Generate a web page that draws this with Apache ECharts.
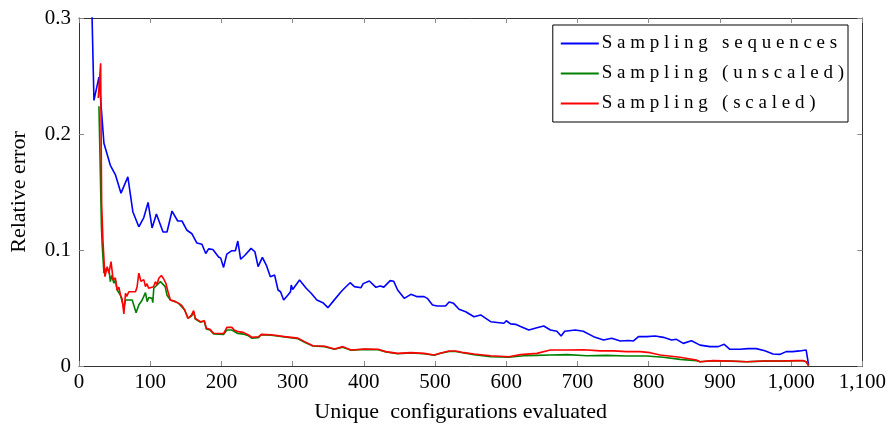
<!DOCTYPE html>
<html>
<head>
<meta charset="utf-8">
<script src="https://cdn.jsdelivr.net/npm/echarts@6/dist/echarts.min.js"></script>
<style>
  html, body { margin: 0; padding: 0; background: #fff; }
  #chart { width: 889px; height: 430px; }
</style>
</head>
<body>
<div id="chart"></div>
<script>
// series: [configurations evaluated, relative error]
const seqData = [
  [18, 0.31], [21, 0.229], [28, 0.249], [35, 0.192], [44, 0.173], [51, 0.165], [59, 0.149],
  [68.6, 0.163], [75.6, 0.133], [84, 0.120], [91, 0.128], [97, 0.141], [102.6, 0.119],
  [108.7, 0.131], [118, 0.1155], [123.6, 0.1155], [130.6, 0.1336], [138.6, 0.125],
  [144.6, 0.125], [151.6, 0.117], [158.6, 0.114], [165.6, 0.106], [172.6, 0.105],
  [178, 0.097], [182, 0.101], [188, 0.1005], [196, 0.094], [199, 0.093], [203, 0.085],
  [207.6, 0.0965], [214.6, 0.0994], [219.6, 0.0994], [223, 0.1077], [227, 0.092],
  [233, 0.0955], [241.6, 0.1014], [247, 0.0985], [251.5, 0.0856], [257.5, 0.0937],
  [263, 0.087], [268.7, 0.077], [274.7, 0.0784], [279.5, 0.0655], [283, 0.064],
  [287.4, 0.0569], [293.4, 0.0612], [297, 0.064], [298, 0.0698], [300, 0.066],
  [309.7, 0.0741], [319, 0.067], [326, 0.0627], [334, 0.0569], [342.4, 0.0546],
  [349.5, 0.0503], [356.5, 0.0555], [368, 0.064], [372.7, 0.067], [380.7, 0.0718],
  [386.7, 0.0684], [396, 0.0675], [399, 0.071], [407.7, 0.0733], [417, 0.0678],
  [423, 0.069], [428, 0.068], [437, 0.0736], [442, 0.073], [447.4, 0.0655],
  [456.7, 0.0583], [466, 0.0618], [475, 0.0598], [484.6, 0.0598], [489, 0.0583],
  [496.4, 0.0526], [503, 0.0517], [514.7, 0.0517], [519.7, 0.0552], [526, 0.054],
  [533.6, 0.0489], [543, 0.0468], [554.6, 0.0425], [564, 0.044], [578, 0.0382],
  [596.6, 0.0368], [600, 0.039], [606, 0.0363], [613, 0.0359], [620, 0.034],
  [631.6, 0.031], [643, 0.033], [652.6, 0.0345], [662, 0.031], [671, 0.030],
  [677, 0.0259], [682, 0.030], [697, 0.031], [708, 0.030], [722.6, 0.0253],
  [736.6, 0.0224], [748, 0.024], [760, 0.0216], [771.6, 0.022], [778.6, 0.0216],
  [785.6, 0.0253], [797, 0.0253], [809, 0.0259], [820.6, 0.0247], [832, 0.0224],
  [839, 0.023], [848.5, 0.0195], [860, 0.0218], [872, 0.018], [886, 0.0167],
  [897.6, 0.0167], [906, 0.0187], [914, 0.0144], [928, 0.0144], [939.6, 0.015],
  [951, 0.015], [963, 0.0132], [974.5, 0.0103], [984, 0.010], [993, 0.0124],
  [1002, 0.0124], [1012, 0.013], [1021, 0.0138], [1023.5, 0.013], [1024.5, 0.001]
];

const unscaledData = [
  [28, 0.224], [31.5, 0.12], [32.5, 0.105], [35, 0.08], [38, 0.084], [42.3, 0.082],
  [44, 0.0727], [46, 0.078], [49, 0.0713], [51, 0.074], [53.6, 0.0655], [58.3, 0.061],
  [63, 0.0497], [65.3, 0.0569], [74.7, 0.0569], [80.2, 0.046], [84, 0.0526],
  [88.7, 0.0569], [93.3, 0.0632], [95.7, 0.0555], [98, 0.059], [102.6, 0.0583],
  [103.6, 0.0546], [105, 0.067], [109.6, 0.0698], [114.3, 0.0727], [117, 0.071],
  [121, 0.0684], [123.6, 0.061], [128.3, 0.0569], [135.3, 0.0555], [140, 0.054],
  [148.4, 0.0483], [153, 0.0411], [158, 0.043], [161, 0.0465], [163.3, 0.0405],
  [170.3, 0.0378], [176, 0.0385], [178.7, 0.032], [184, 0.031], [189, 0.0276],
  [196, 0.0275], [203, 0.0272], [207.6, 0.031], [214.6, 0.031], [223, 0.028],
  [230.7, 0.0275], [238, 0.026], [242.5, 0.024], [252, 0.0245], [256, 0.027],
  [270, 0.0265], [288.7, 0.025], [307.4, 0.0235], [316.7, 0.0205], [328.4, 0.0172],
  [345, 0.0167], [358.7, 0.0145], [370.4, 0.0162], [382, 0.0136], [401, 0.0143],
  [420, 0.014], [431, 0.012], [447.4, 0.0106], [466, 0.0112], [484.6, 0.0106],
  [498.7, 0.0093], [508, 0.011], [519.7, 0.0125], [529, 0.0125], [540.6, 0.0112],
  [554.6, 0.0098], [578, 0.008], [603.6, 0.0076], [624.6, 0.0089], [643, 0.0092],
  [662, 0.0095], [685.6, 0.0098], [713, 0.0089], [741, 0.0092], [769, 0.0086],
  [787.6, 0.0086], [797, 0.0086], [820.6, 0.0075], [844, 0.0057], [867, 0.0045],
  [872, 0.0037], [890.6, 0.0045], [914, 0.0042], [937.6, 0.0037], [961, 0.0042],
  [984, 0.0042], [1007.6, 0.0045], [1017, 0.0045], [1021, 0.0037], [1024.5, 0.0003]
];

const scaledData = [
  [27, 0.231], [30.4, 0.261], [31.8, 0.14], [33.6, 0.1086], [36.4, 0.077],
  [39.6, 0.0856], [42, 0.08], [45, 0.090], [48, 0.074], [51, 0.076], [53.6, 0.0655],
  [56, 0.068], [58.3, 0.061], [60.5, 0.058], [63, 0.0448], [65.3, 0.0627], [67, 0.06],
  [70, 0.064], [79.3, 0.064], [81.5, 0.068], [84, 0.080], [87, 0.073], [91, 0.0745],
  [93.3, 0.0684], [95.5, 0.071], [97.7, 0.067], [104.7, 0.0684], [107.3, 0.0727],
  [109.6, 0.070], [112, 0.0756], [115.7, 0.078], [119, 0.075], [122, 0.0713],
  [125, 0.064], [128.3, 0.0569], [135.3, 0.0555], [140, 0.054], [144, 0.0525],
  [148.4, 0.0483], [153, 0.0411], [158, 0.044], [161, 0.0477], [163.3, 0.0411],
  [170.3, 0.0382], [176, 0.039], [178.7, 0.0325], [184, 0.0316], [189, 0.0282],
  [196, 0.028], [203, 0.028], [207.6, 0.0333], [214.6, 0.0333], [218, 0.031],
  [223, 0.0296], [230.7, 0.029], [238, 0.0267], [242.5, 0.0248], [252, 0.0252],
  [256, 0.0273], [270, 0.027], [288.7, 0.0253], [307.4, 0.024], [316.7, 0.021],
  [328.4, 0.0175], [345, 0.017], [358.7, 0.0147], [370.4, 0.0167], [382, 0.0138],
  [401, 0.0147], [420, 0.0144], [431, 0.0124], [447.4, 0.0109], [466, 0.0115],
  [484.6, 0.0109], [498.7, 0.0095], [508, 0.0112], [519.7, 0.0129], [529, 0.0129],
  [540.6, 0.0115], [554.6, 0.0103], [578, 0.0089], [603.6, 0.008], [620, 0.0098],
  [643, 0.0109], [662, 0.0138], [685.6, 0.0138], [708.6, 0.014], [732, 0.013],
  [750.6, 0.013], [769, 0.0124], [788, 0.0124], [802, 0.0115], [816, 0.0095],
  [844, 0.0075], [867, 0.0052], [872, 0.0037], [890.6, 0.0046], [914, 0.0043],
  [937.6, 0.0037], [961, 0.0043], [984, 0.0043], [1007.6, 0.0046], [1017, 0.0046],
  [1021, 0.0037], [1024.5, 0.0003]
];

const seriesNames = [
  'S a m p l i n g   s e q u e n c e s',
  'S a m p l i n g   ( u n s c a l e d )',
  'S a m p l i n g   ( s c a l e d )'
];
const seriesColors = ['#0000ff', '#008000', '#ff0000'];

const font = 'Liberation Serif';
const tickColor = '#888';
const frameColor = '#333';

function xLabel(v) {
  return v >= 1000 ? Math.floor(v / 1000) + ',' + String(v % 1000).padStart(3, '0') : String(v);
}

const myChart = echarts.init(document.getElementById('chart'));
const option = {
  animation: false,
  backgroundColor: '#fff',
  textStyle: { fontFamily: font },
  grid: { left: 77, right: 26, top: 18, bottom: 64, containLabel: false },
  legend: {
    orient: 'vertical',
    right: 41,
    top: 25,
    data: seriesNames,
    backgroundColor: '#fff',
    borderColor: '#000',
    borderWidth: 1,
    borderRadius: 0,
    padding: [9, 4, 9, 7],
    itemGap: 11,
    itemWidth: 38,
    itemHeight: 12,
    itemStyle: { opacity: 0 },
    textStyle: { fontFamily: font, fontSize: 19, color: '#000', padding: [0, 0, 0, -2] }
  },
  xAxis: [
    {
      type: 'value',
      min: 0, max: 1100, interval: 100,
      name: 'Unique  configurations evaluated',
      nameLocation: 'middle',
      nameGap: 35,
      nameTextStyle: { fontFamily: font, fontSize: 22, color: '#000', padding: [0, 20, 0, 0] },
      axisLine: { show: true, onZero: false, lineStyle: { color: frameColor, width: 1 } },
      axisTick: { inside: true, length: 5, lineStyle: { color: tickColor } },
      axisLabel: { fontFamily: font, fontSize: 21, color: '#000', margin: 6, formatter: xLabel },
      splitLine: { show: false }
    },
    {
      type: 'value',
      position: 'top',
      min: 0, max: 1100, interval: 100,
      axisLine: { show: true, onZero: false, lineStyle: { color: frameColor, width: 1 } },
      axisTick: { inside: true, length: 5, lineStyle: { color: tickColor } },
      axisLabel: { show: false },
      splitLine: { show: false }
    }
  ],
  yAxis: [
    {
      type: 'value',
      min: 0, max: 0.3, interval: 0.1,
      name: 'Relative error',
      nameLocation: 'middle',
      nameGap: 49,
      nameTextStyle: { fontFamily: font, fontSize: 22, color: '#000' },
      axisLine: { show: true, onZero: false, lineStyle: { color: frameColor, width: 1 } },
      axisTick: { show: true, inside: true, length: 5, lineStyle: { color: tickColor } },
      axisLabel: { fontFamily: font, fontSize: 21, color: '#000', margin: 8,
        formatter: (v) => (v === 0 ? '0' : v.toFixed(1)) },
      splitLine: { show: false }
    },
    {
      type: 'value',
      position: 'right',
      min: 0, max: 0.3, interval: 0.1,
      axisLine: { show: true, onZero: false, lineStyle: { color: frameColor, width: 1 } },
      axisTick: { show: true, inside: true, length: 5, lineStyle: { color: tickColor } },
      axisLabel: { show: false },
      splitLine: { show: false }
    }
  ],
  series: [seqData, unscaledData, scaledData].map((d, i) => ({
    name: seriesNames[i],
    type: 'line',
    xAxisIndex: 0,
    yAxisIndex: 0,
    symbol: 'none',
    clip: true,
    color: seriesColors[i],
    lineStyle: { color: seriesColors[i], width: 1.6 },
    data: d
  }))
};
myChart.setOption(option);
</script>
</body>
</html>
